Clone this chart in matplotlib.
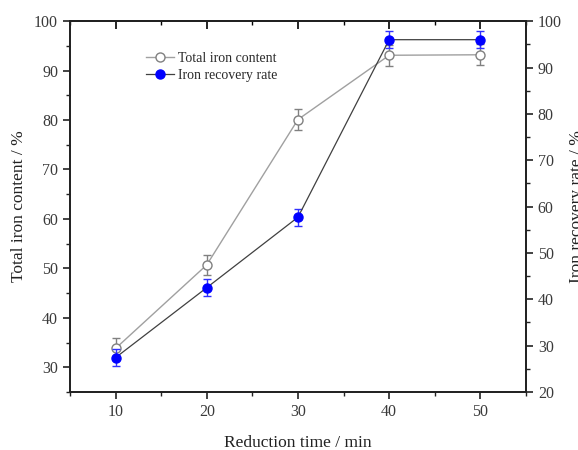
import matplotlib
matplotlib.use('Agg')
import matplotlib.pyplot as plt
from matplotlib.ticker import MultipleLocator

# data
time_min = [10, 20, 30, 40, 50]
total_iron = [33.8, 50.7, 80.1, 93.1, 93.2]
total_iron_err = [2.2, 2.1, 2.2, 2.1, 2.1]
recovery = [27.4, 42.5, 57.7, 96.0, 96.0]
recovery_err = [1.8, 1.8, 1.8, 1.9, 1.9]

plt.rcParams['font.family'] = ['Liberation Serif', 'DejaVu Serif']
plt.rcParams['font.size'] = 10

fig = plt.figure(figsize=(5.78, 4.5), dpi=100)
ax = fig.add_axes([0.121, 0.129, 0.789, 0.824])
ax2 = ax.twinx()

# total iron content on the left axis
l1 = ax.errorbar(time_min, total_iron, yerr=total_iron_err, color='#a0a0a0', lw=1,
                 marker='o', ms=6.5, mfc='white', mec='#808080', mew=1,
                 ecolor='#808080', elinewidth=1, capsize=3, capthick=1,
                 label='Total iron content')
# recovery rate on the right axis
l2 = ax2.errorbar(time_min, recovery, yerr=recovery_err, color='#404040', lw=0.9,
                  marker='o', ms=6.5, mfc='#0000ff', mec='#0000ff',
                  ecolor='#3030ff', elinewidth=1, capsize=3, capthick=1,
                  label='Iron recovery rate')

ax.set_xlim(5, 55)
ax.set_ylim(25, 100)
ax2.set_ylim(20, 100)

ax.xaxis.set_major_locator(MultipleLocator(10))
ax.xaxis.set_minor_locator(MultipleLocator(5))
ax.yaxis.set_major_locator(MultipleLocator(10))
ax.yaxis.set_minor_locator(MultipleLocator(5))
ax2.yaxis.set_major_locator(MultipleLocator(10))
ax2.yaxis.set_minor_locator(MultipleLocator(5))

tcol = '#3a3a3a'
ax.tick_params(axis='both', which='major', direction='out', length=5, width=1.2, labelsize=11.5, colors='#222222', labelcolor=tcol)
ax.tick_params(axis='both', which='minor', direction='out', length=3, width=1, colors='#222222')
ax2.tick_params(axis='y', which='major', direction='out', length=5, width=1.2, labelsize=11.5, colors='#222222', labelcolor=tcol)
ax2.tick_params(axis='y', which='minor', direction='out', length=3, width=1, colors='#222222')

# top axis with inward ticks and no labels
top = ax.secondary_xaxis('top')
top.xaxis.set_major_locator(MultipleLocator(10))
top.xaxis.set_minor_locator(MultipleLocator(5))
top.tick_params(which='major', direction='in', length=6, width=1.2, labeltop=False)
top.tick_params(which='minor', direction='in', length=3, width=1)

for a in (ax, ax2):
    for s in a.spines.values():
        s.set_linewidth(1.3)
        s.set_color('#222222')
top.spines['top'].set_linewidth(1.3)

ax.set_xlabel('Reduction time / min', fontsize=12.5, color='#222222', labelpad=11)
ax.set_ylabel('Total iron content / %', fontsize=12.5, color='#222222', labelpad=5)
ax2.set_ylabel('Iron recovery rate / %', fontsize=12.5, color='#222222', labelpad=5)

ax.legend([l1[0], l2[0]], ['Total iron content', 'Iron recovery rate'], loc='upper left',
          bbox_to_anchor=(0.14, 0.95), frameon=False, fontsize=10, labelcolor='#2a2a2a',
          handlelength=2.0, handletextpad=0.3, labelspacing=0.3)

plt.savefig('out.png', dpi=100)
